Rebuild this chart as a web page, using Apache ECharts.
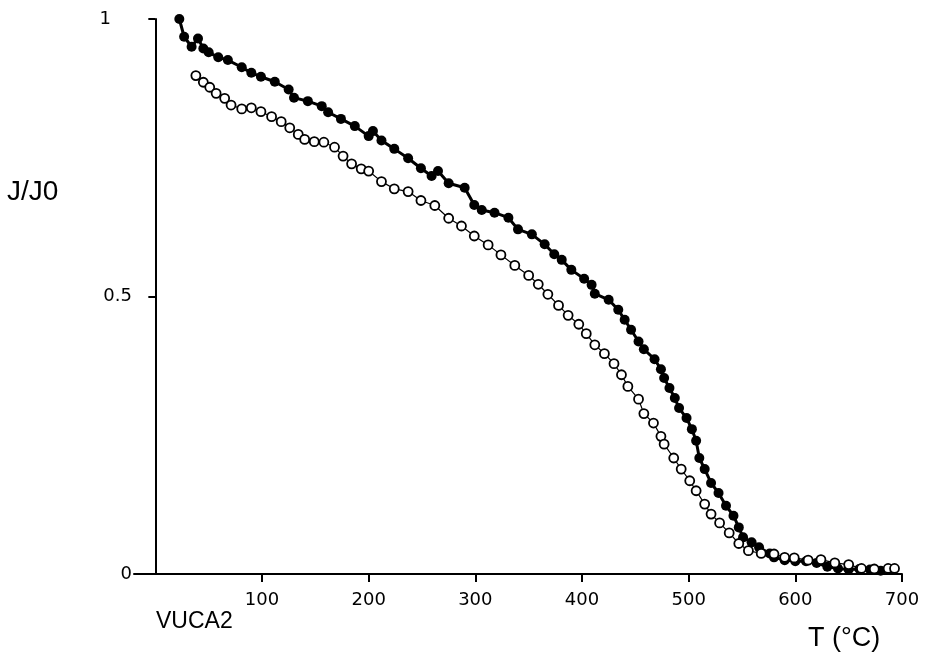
<!DOCTYPE html>
<html>
<head>
<meta charset="utf-8">
<script src="https://cdn.jsdelivr.net/npm/echarts@6/dist/echarts.min.js"></script>
<style>
html,body{margin:0;padding:0;background:#fff;}
#chart{width:925px;height:662px;}
</style>
</head>
<body>
<div id="chart"></div>
<script>
// Filled symbols series (T in °C, J/J0)
var filledT = [22.5,27,34,40,45,50,59,68,81,90,99,112,125,130,143,156,162,174,187,200,204,212,224,237,249,259,265,275,290,299,306,318,331,340,353,365,374,381,390,402,409,412,425,434,440,446,453,458,468,474,477,482,487,491,498,503,507,510,515,521,528,535,542,547,551,559,566,576,580,590,600,610,620,630,640,650,660,670,680,690];
var filledJ = [1.0,0.968,0.950,0.965,0.947,0.940,0.931,0.926,0.913,0.903,0.896,0.887,0.873,0.858,0.852,0.843,0.832,0.820,0.807,0.789,0.798,0.781,0.766,0.749,0.731,0.717,0.726,0.704,0.696,0.665,0.656,0.651,0.642,0.621,0.612,0.594,0.576,0.566,0.548,0.532,0.521,0.505,0.494,0.476,0.458,0.440,0.419,0.405,0.387,0.369,0.353,0.335,0.317,0.299,0.281,0.261,0.240,0.209,0.189,0.164,0.146,0.123,0.105,0.084,0.066,0.057,0.048,0.037,0.030,0.025,0.023,0.023,0.020,0.013,0.010,0.008,0.009,0.008,0.006,0.007];
// Open symbols series
var openT = [38,45,51,57,65,71,81,90,99,109,118,126,134,140,149,158,168,176,184,193,200,212,224,237,249,262,275,287,299,312,324,337,350,359,368,378,387,397,404,412,421,430,437,443,453,458,467,474,477,486,493,501,507,515,521,529,538,547,556,568,580,590,599,612,624,637,650,662,674,687,693];
var openJ = [0.898,0.886,0.877,0.866,0.857,0.845,0.838,0.840,0.833,0.824,0.815,0.804,0.792,0.783,0.779,0.778,0.769,0.753,0.739,0.730,0.726,0.707,0.694,0.689,0.673,0.664,0.641,0.627,0.609,0.593,0.575,0.556,0.538,0.522,0.504,0.484,0.466,0.450,0.433,0.413,0.397,0.379,0.359,0.338,0.315,0.289,0.272,0.248,0.234,0.209,0.189,0.168,0.150,0.126,0.108,0.092,0.074,0.055,0.042,0.037,0.036,0.030,0.029,0.025,0.026,0.020,0.017,0.010,0.009,0.010,0.010];
// Tick labels
var xTicks = [100,200,300,400,500,600,700];
var yTicks = [0,0.5,1];

function pairs(xs, ys){ var out=[]; for(var i=0;i<xs.length;i++){ out.push([xs[i], ys[i]]); } return out; }

var FONT = '"Liberation Sans", Arial, Helvetica, sans-serif';
var TICKFONT = '"DejaVu Sans", "Liberation Sans", sans-serif';
var chart = echarts.init(document.getElementById('chart'), null, {renderer:'canvas'});
chart.setOption({
  backgroundColor:'#ffffff',
  animation:false,
  grid:{left:134, right:23, top:19, bottom:88, containLabel:false},
  xAxis:{
    type:'value', min:-20, max:700,
    axisLine:{show:true, onZero:false, lineStyle:{color:'#000', width:2}},
    axisTick:{show:true, customValues:xTicks, length:8, inside:false, lineStyle:{color:'#000', width:2}},
    axisLabel:{show:true, customValues:xTicks, margin:17, color:'#000', fontSize:18, fontFamily:TICKFONT},
    splitLine:{show:false}
  },
  yAxis:{
    type:'value', min:0, max:1, interval:0.5,
    axisLine:{show:true, onZero:true, lineStyle:{color:'#000', width:2}},
    axisTick:{show:true, length:7, inside:false, lineStyle:{color:'#000', width:2}},
    axisLabel:{show:true, margin:2, color:'#000', fontSize:18, fontFamily:TICKFONT,
      formatter:function(v){
        if (yTicks.indexOf(v) < 0) return '';
        return v === 1 ? '{one|1}' : String(v);
      },
      rich:{one:{fontSize:18, fontFamily:TICKFONT, color:'#000', padding:[0,21,0,0]}}
    },
    splitLine:{show:false}
  },
  graphic:[
    {type:'text', left:7, top:178, style:{text:'J/J0', fontSize:28, fontFamily:FONT, fill:'#000'}},
    {type:'text', left:156, top:610, style:{text:'VUCA2', fontSize:23, fontFamily:FONT, fill:'#000'}},
    {type:'text', left:808, top:625, style:{text:'T (°C)', fontSize:27, fontFamily:FONT, fill:'#000'}}
  ],
  series:[
    {
      name:'filled', type:'line', data:pairs(filledT, filledJ),
      symbol:'circle', symbolSize:10, showSymbol:true,
      lineStyle:{color:'#000', width:3},
      itemStyle:{color:'#000', borderColor:'#000', borderWidth:0},
      z:2
    },
    {
      name:'open', type:'line', data:pairs(openT, openJ),
      symbol:'circle', symbolSize:9, showSymbol:true,
      lineStyle:{color:'#000', width:1.2},
      itemStyle:{color:'#fff', borderColor:'#000', borderWidth:1.8},
      z:3
    }
  ]
});
</script>
</body>
</html>
